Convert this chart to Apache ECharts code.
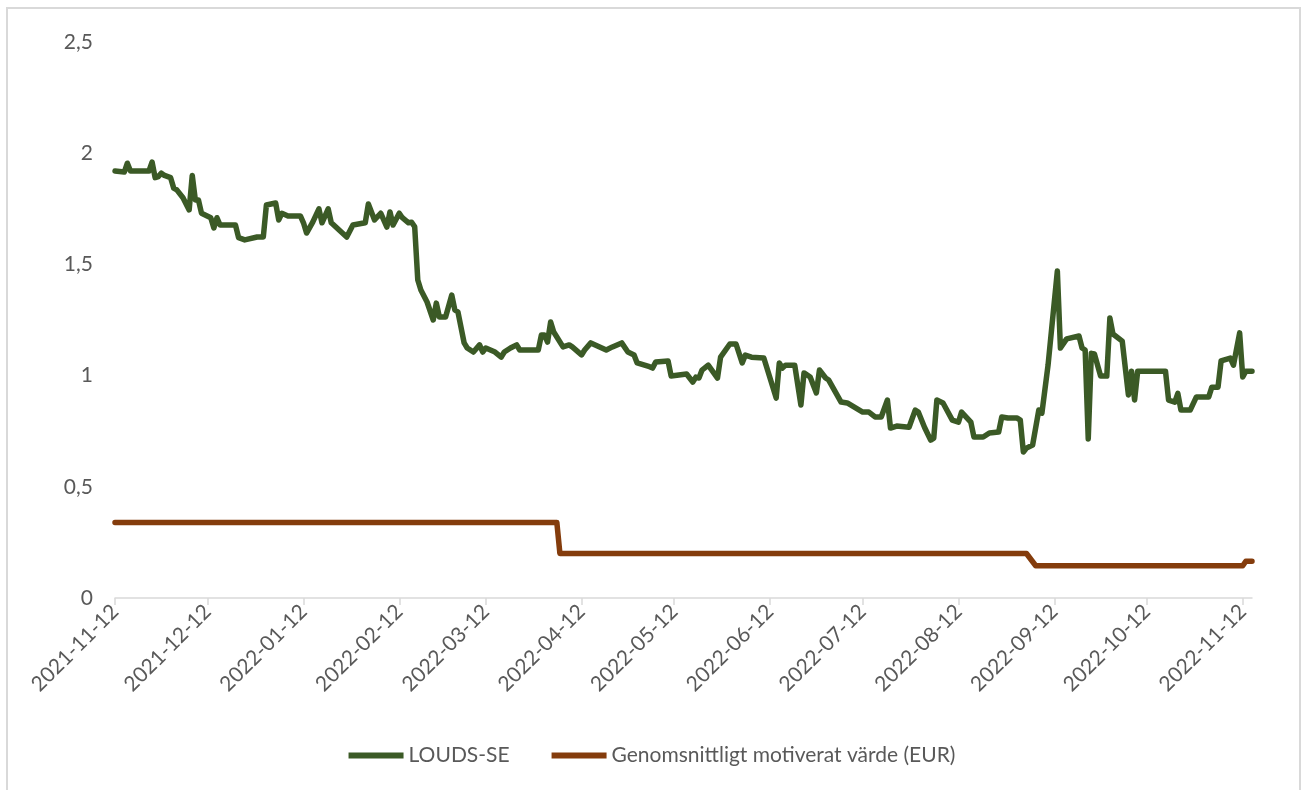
<!DOCTYPE html>
<html>
<head>
<meta charset="utf-8">
<script src="https://cdn.jsdelivr.net/npm/echarts@6/dist/echarts.min.js"></script>
<style>
html,body{margin:0;padding:0;background:#fff;}
#chart{width:1304px;height:790px;}
</style>
</head>
<body>
<div id="chart"></div>
<script>
// ---- data ----
const seriesNames = ['LOUDS-SE', 'Genomsnittligt motiverat värde (EUR)'];

const loudsDates = [
'2021-11-12','2021-11-15','2021-11-16','2021-11-17','2021-11-23','2021-11-24','2021-11-25','2021-11-26','2021-11-27','2021-11-28',
'2021-11-30','2021-12-01','2021-12-02','2021-12-04','2021-12-06','2021-12-07','2021-12-08','2021-12-09','2021-12-10','2021-12-13',
'2021-12-14','2021-12-15','2021-12-16','2021-12-21','2021-12-22','2021-12-24','2021-12-28','2021-12-30','2021-12-31','2022-01-03',
'2022-01-04','2022-01-05','2022-01-07','2022-01-11','2022-01-12','2022-01-13','2022-01-15','2022-01-17','2022-01-18','2022-01-20',
'2022-01-21','2022-01-26','2022-01-28','2022-02-01','2022-02-02','2022-02-04','2022-02-06','2022-02-08','2022-02-09','2022-02-10',
'2022-02-12','2022-02-13','2022-02-15','2022-02-16','2022-02-17','2022-02-18','2022-02-19','2022-02-21','2022-02-23','2022-02-24',
'2022-02-25','2022-02-27','2022-03-01','2022-03-02','2022-03-03','2022-03-05','2022-03-06','2022-03-08','2022-03-10','2022-03-11',
'2022-03-12','2022-03-15','2022-03-17','2022-03-18','2022-03-20','2022-03-22','2022-03-23','2022-03-29','2022-03-30','2022-03-31',
'2022-04-01','2022-04-02','2022-04-03','2022-04-06','2022-04-08','2022-04-09','2022-04-12','2022-04-13','2022-04-15','2022-04-20',
'2022-04-22','2022-04-25','2022-04-27','2022-04-29','2022-04-30','2022-05-04','2022-05-05','2022-05-06','2022-05-10','2022-05-11',
'2022-05-16','2022-05-18','2022-05-19','2022-05-20','2022-05-21','2022-05-23','2022-05-26','2022-05-27','2022-05-30','2022-06-01',
'2022-06-03','2022-06-04','2022-06-06','2022-06-10','2022-06-14','2022-06-15','2022-06-16','2022-06-17','2022-06-20','2022-06-22',
'2022-06-23','2022-06-25','2022-06-27','2022-06-28','2022-06-30','2022-07-01','2022-07-05','2022-07-07','2022-07-12','2022-07-14',
'2022-07-16','2022-07-18','2022-07-20','2022-07-21','2022-07-23','2022-07-27','2022-07-29','2022-07-30','2022-08-01','2022-08-03',
'2022-08-04','2022-08-05','2022-08-07','2022-08-10','2022-08-12','2022-08-13','2022-08-16','2022-08-17','2022-08-20','2022-08-22',
'2022-08-25','2022-08-26','2022-08-28','2022-08-31','2022-09-01','2022-09-02','2022-09-03','2022-09-05','2022-09-07','2022-09-08',
'2022-09-10','2022-09-13','2022-09-14','2022-09-16','2022-09-20','2022-09-21','2022-09-22','2022-09-23','2022-09-24','2022-09-25',
'2022-09-27','2022-09-29','2022-09-30','2022-10-01','2022-10-04','2022-10-06','2022-10-07','2022-10-08','2022-10-09','2022-10-18',
'2022-10-19','2022-10-21','2022-10-22','2022-10-23','2022-10-26','2022-10-28','2022-11-01','2022-11-02','2022-11-04','2022-11-05',
'2022-11-08','2022-11-09','2022-11-11','2022-11-12','2022-11-13','2022-11-15'
];
const loudsValues = [
1.92,1.915,1.955,1.92,1.92,1.96,1.89,1.895,1.91,1.90,
1.89,1.843,1.835,1.80,1.745,1.90,1.79,1.79,1.73,1.71,
1.664,1.71,1.677,1.677,1.62,1.61,1.623,1.623,1.767,1.776,
1.70,1.73,1.718,1.718,1.687,1.641,1.69,1.75,1.687,1.75,
1.687,1.623,1.677,1.687,1.772,1.70,1.73,1.668,1.736,1.677,
1.73,1.71,1.687,1.69,1.669,1.43,1.385,1.331,1.25,1.326,
1.263,1.263,1.362,1.295,1.286,1.147,1.124,1.106,1.138,1.106,
1.124,1.106,1.083,1.106,1.124,1.138,1.115,1.115,1.182,1.182,
1.151,1.241,1.196,1.129,1.138,1.129,1.093,1.115,1.147,1.115,
1.129,1.147,1.106,1.093,1.057,1.04,1.034,1.061,1.066,0.998,
1.007,0.971,0.993,0.989,1.025,1.047,0.989,1.083,1.142,1.142,
1.057,1.092,1.083,1.079,0.899,1.057,1.034,1.047,1.047,0.868,
1.012,0.994,0.922,1.025,0.989,0.98,0.881,0.877,0.836,0.836,
0.814,0.814,0.89,0.764,0.773,0.768,0.845,0.836,0.768,0.71,
0.719,0.89,0.877,0.80,0.791,0.836,0.791,0.724,0.724,0.742,
0.746,0.814,0.809,0.809,0.80,0.656,0.674,0.688,0.845,0.831,
1.048,1.47,1.124,1.165,1.178,1.124,1.115,0.715,1.10,1.097,
0.998,0.998,1.259,1.187,1.155,0.913,1.02,0.89,1.02,1.02,
0.89,0.881,0.92,0.845,0.845,0.904,0.904,0.948,0.948,1.066,
1.079,1.047,1.192,0.994,1.02,1.02
];

const valueDates = ['2021-11-12','2022-04-04','2022-04-05','2022-09-03','2022-09-06','2022-11-12','2022-11-13','2022-11-15'];
const valueValues = [0.34,0.34,0.20,0.20,0.145,0.145,0.165,0.165];

const tickDates = ['2021-11-12','2021-12-12','2022-01-12','2022-02-12','2022-03-12','2022-04-12','2022-05-12',
  '2022-06-12','2022-07-12','2022-08-12','2022-09-12','2022-10-12','2022-11-12'];
const axisStart = '2021-11-12';
const axisEnd = '2022-11-15';

// ---- helpers ----
function ts(s){ const p = s.split('-').map(Number); return Date.UTC(p[0], p[1]-1, p[2]); }
function fmt(t){ const d = new Date(t); const m = d.getUTCMonth()+1, dd = d.getUTCDate();
  return d.getUTCFullYear() + '-' + (m<10?'0':'') + m + '-' + (dd<10?'0':'') + dd; }
function pairs(ds, vs){ return ds.map((d,i)=>[ts(d), vs[i]]); }

const FONT = 'Lato';
const TXT = '#595959';
const chart = echarts.init(document.getElementById('chart'), null, {renderer:'canvas'});
chart.setOption({
  backgroundColor:'#ffffff',
  animation:false,
  textStyle:{fontFamily:FONT},
  graphic:[{type:'rect', shape:{x:7,y:8,width:1293,height:800}, style:{fill:'none', stroke:'#d9d9d9', lineWidth:2}, silent:true}],
  grid:{left:115, right:52, top:42, bottom:192, containLabel:false},
  legend:{
    data:seriesNames, bottom:19, left:'center', itemWidth:55, itemHeight:6, itemGap:42, icon:'rect',
    textStyle:{color:TXT, fontSize:21, fontFamily:FONT}
  },
  xAxis:{
    type:'value', min:ts(axisStart), max:ts(axisEnd),
    axisLine:{show:true, lineStyle:{color:'#d9d9d9', width:1.5}},
    axisTick:{show:true, length:7, lineStyle:{color:'#d9d9d9', width:1.5}, customValues:tickDates.map(ts)},
    axisLabel:{rotate:45, margin:10, color:TXT, fontSize:21, fontFamily:FONT, customValues:tickDates.map(ts), formatter:v=>fmt(v)},
    splitLine:{show:false}
  },
  yAxis:{
    type:'value', min:0, max:2.5, interval:0.5,
    axisLine:{show:false}, axisTick:{show:false}, splitLine:{show:false},
    axisLabel:{margin:22, color:TXT, fontSize:21, fontFamily:FONT, formatter:v=>String(v).replace('.', ',')}
  },
  series:[
    {name:seriesNames[0], type:'line', data:pairs(loudsDates, loudsValues), symbol:'none',
     lineStyle:{color:'#3b5a26', width:5.5, join:'round', cap:'round'}, itemStyle:{color:'#3b5a26'}},
    {name:seriesNames[1], type:'line', data:pairs(valueDates, valueValues), symbol:'none',
     lineStyle:{color:'#843c0c', width:5.5, join:'round', cap:'round'}, itemStyle:{color:'#843c0c'}}
  ]
});
</script>
</body>
</html>
